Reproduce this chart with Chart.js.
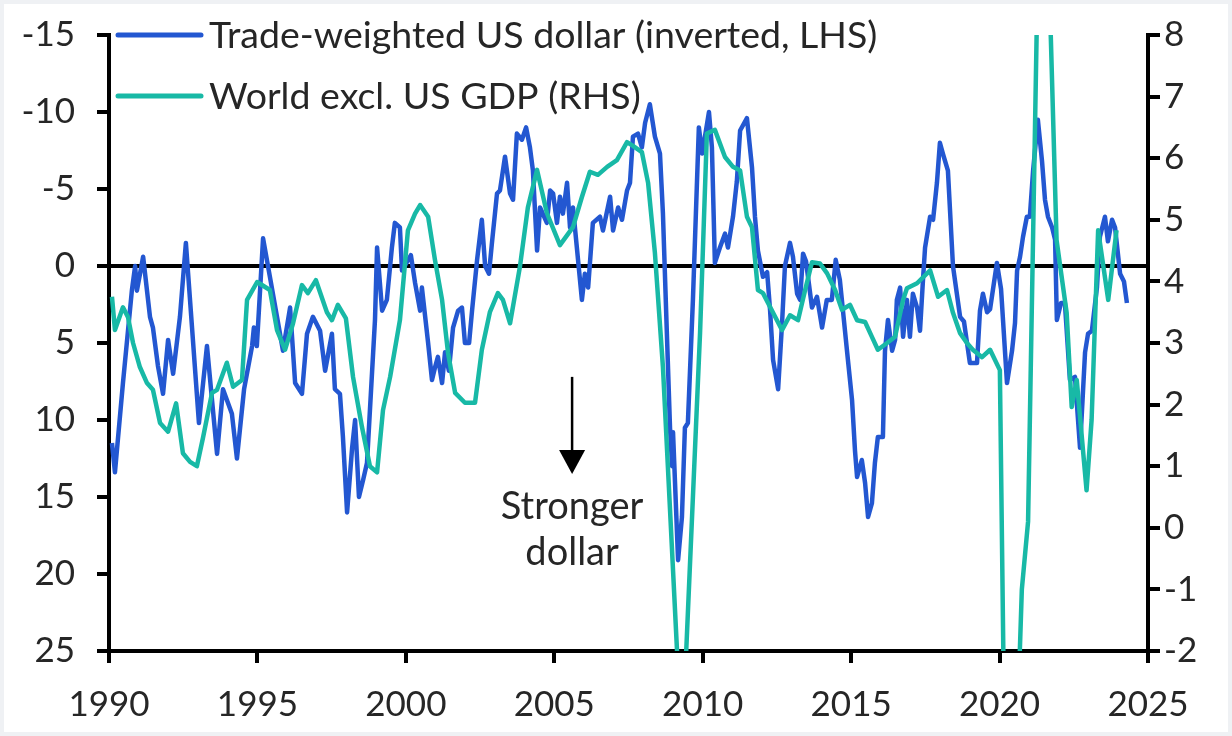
<!DOCTYPE html>
<html>
<head>
<meta charset="utf-8">
<script src="https://cdn.jsdelivr.net/npm/chart.js@4.4.1/dist/chart.umd.min.js"></script>
<style>
  html, body { margin: 0; padding: 0; background: #eff1f4; }
  canvas { display: block; }
</style>
</head>
<body>
<canvas id="grafico" width="1232" height="736"></canvas>
<script>
// Dólar ponderado pelo comércio (% a/a, eixo esquerdo invertido)
const anosDolar = [
  1990.10, 1990.20, 1990.47, 1990.77, 1990.88, 1990.94, 1991.15, 1991.38, 1991.48, 1991.65,
  1991.82, 1991.99, 1992.16, 1992.39, 1992.59, 1993.03, 1993.30, 1993.64, 1993.84, 1994.14,
  1994.31, 1994.55, 1994.82, 1994.88, 1994.98, 1995.19, 1995.66, 1995.86, 1996.10, 1996.27,
  1996.50, 1996.67, 1996.87, 1997.11, 1997.28, 1997.51, 1997.61, 1997.78, 1997.88, 1998.02,
  1998.19, 1998.29, 1998.42, 1998.56, 1998.69, 1998.96, 1999.03, 1999.20, 1999.36, 1999.53,
  1999.63, 1999.80, 1999.87, 2000.17, 2000.31, 2000.48, 2000.54, 2000.75, 2000.88, 2000.98,
  2001.08, 2001.22, 2001.32, 2001.45, 2001.59, 2001.76, 2001.89, 2001.99, 2002.13, 2002.23,
  2002.40, 2002.56, 2002.67, 2002.80, 2002.90, 2003.07, 2003.17, 2003.34, 2003.51, 2003.61,
  2003.74, 2003.91, 2004.05, 2004.18, 2004.28, 2004.42, 2004.52, 2004.75, 2004.86, 2004.96,
  2005.09, 2005.19, 2005.29, 2005.43, 2005.53, 2005.63, 2005.76, 2005.93, 2006.03, 2006.14,
  2006.30, 2006.54, 2006.64, 2006.88, 2006.98, 2007.15, 2007.28, 2007.45, 2007.55, 2007.65,
  2007.82, 2007.95, 2008.06, 2008.22, 2008.39, 2008.56, 2008.66, 2008.80, 2008.90, 2008.97,
  2009.00, 2009.17, 2009.30, 2009.40, 2009.50, 2009.67, 2009.87, 2009.98, 2010.11, 2010.21,
  2010.31, 2010.41, 2010.58, 2010.75, 2010.85, 2011.02, 2011.15, 2011.26, 2011.49, 2011.66,
  2011.76, 2011.86, 2012.03, 2012.17, 2012.27, 2012.37, 2012.54, 2012.67, 2012.77, 2012.94,
  2013.04, 2013.18, 2013.28, 2013.38, 2013.48, 2013.68, 2013.85, 2014.02, 2014.18, 2014.35,
  2014.48, 2014.62, 2014.86, 2015.03, 2015.13, 2015.20, 2015.36, 2015.47, 2015.57, 2015.70,
  2015.80, 2015.90, 2016.07, 2016.14, 2016.24, 2016.38, 2016.48, 2016.54, 2016.65, 2016.75,
  2016.88, 2016.98, 2017.08, 2017.22, 2017.32, 2017.42, 2017.49, 2017.66, 2017.76, 2017.89,
  2017.99, 2018.09, 2018.26, 2018.43, 2018.67, 2018.80, 2019.00, 2019.24, 2019.34, 2019.44,
  2019.58, 2019.68, 2019.91, 2020.05, 2020.25, 2020.42, 2020.52, 2020.59, 2020.69, 2020.79,
  2020.92, 2021.02, 2021.13, 2021.29, 2021.43, 2021.53, 2021.63, 2021.77, 2021.87, 2021.93,
  2022.07, 2022.20, 2022.37, 2022.54, 2022.71, 2022.88, 2022.98, 2023.11, 2023.28, 2023.38,
  2023.55, 2023.65, 2023.79, 2023.89, 2024.06, 2024.19, 2024.29
];
const valoresDolar = [
  11.5, 13.4, 7.6, 1.6, 0.0, 1.6, -0.6, 3.3, 4.0, 6.5,
  8.3, 4.8, 7.0, 3.3, -1.5, 10.2, 5.2, 12.2, 8.0, 9.6,
  12.5, 8.0, 5.2, 4.0, 5.2, -1.8, 3.3, 5.5, 2.7, 7.6,
  8.3, 4.4, 3.3, 4.2, 6.8, 4.4, 8.0, 8.3, 11.1, 16.0,
  11.8, 10.0, 15.0, 13.9, 12.8, 3.5, -1.2, 2.9, 2.2, -1.2,
  -2.8, -2.5, 0.3, -0.7, 1.1, 2.9, 1.4, 5.0, 7.4, 6.6,
  5.9, 7.6, 5.6, 6.8, 4.0, 2.9, 2.7, 5.0, 5.0, 2.9,
  -0.4, -3.0, 0.0, 0.5, -1.5, -4.7, -4.9, -7.1, -4.7, -4.3,
  -8.6, -8.2, -9.0, -7.7, -6.2, -1.0, -3.8, -2.8, -4.9, -4.7,
  -2.8, -4.5, -3.4, -5.4, -2.5, -3.8, -1.2, 2.2, 0.5, 1.4,
  -2.8, -3.2, -2.3, -4.5, -2.3, -3.8, -3.0, -4.9, -5.4, -8.4,
  -8.6, -7.7, -9.3, -10.5, -8.4, -7.3, -3.4, 4.8, 10.6, 13.0,
  10.8, 19.1, 16.3, 10.5, 10.2, 2.2, -9.0, -7.3, -8.8, -10.0,
  -7.7, -0.2, -1.2, -2.1, -1.2, -3.2, -5.5, -8.8, -9.6, -6.4,
  -3.2, -1.0, 0.7, 0.4, 2.9, 6.1, 8.0, 3.8, 0.0, -1.5,
  -0.6, 1.8, 2.2, -0.8, -0.3, 2.7, 2.0, 4.0, 2.2, 2.2,
  -0.4, 0.9, 5.5, 8.7, 12.0, 13.7, 12.6, 14.1, 16.3, 15.4,
  12.8, 11.1, 11.1, 5.5, 3.5, 5.5, 4.8, 2.2, 1.4, 4.6,
  2.2, 4.6, 1.8, 2.7, 4.2, 0.9, -1.2, -3.2, -3.0, -5.4,
  -8.0, -7.3, -6.2, 0.0, 3.3, 3.6, 6.3, 6.3, 2.9, 1.8,
  3.0, 2.8, -0.2, 1.5, 7.6, 5.5, 3.7, 0.3, -0.6, -1.9,
  -3.2, -3.2, -6.2, -9.5, -6.8, -4.3, -3.2, -2.5, -1.7, 3.5,
  2.4, 2.4, 7.4, 7.2, 11.8, 5.6, 4.4, 4.2, 1.4, -1.9,
  -3.2, -1.6, -3.0, -2.5, 0.5, 1.0, 2.4
];

// PIB mundial excl. EUA (% a/a, eixo direito)
const anosPib = [
  1990.10, 1990.20, 1990.47, 1990.64, 1990.81, 1991.04, 1991.28, 1991.48, 1991.72, 1991.99,
  1992.26, 1992.49, 1992.73, 1992.96, 1993.17, 1993.47, 1993.64, 1993.97, 1994.18, 1994.48,
  1994.65, 1994.99, 1995.42, 1995.66, 1995.93, 1996.20, 1996.50, 1996.70, 1996.97, 1997.34,
  1997.51, 1997.71, 1997.98, 1998.22, 1998.52, 1998.79, 1999.03, 1999.23, 1999.47, 1999.80,
  2000.07, 2000.31, 2000.48, 2000.75, 2000.98, 2001.22, 2001.42, 2001.66, 2001.99, 2002.33,
  2002.56, 2002.83, 2003.10, 2003.27, 2003.51, 2003.84, 2004.11, 2004.42, 2004.75, 2005.19,
  2005.63, 2005.93, 2006.20, 2006.47, 2006.78, 2007.11, 2007.45, 2007.65, 2007.95, 2008.16,
  2008.39, 2008.66, 2009.30, 2009.91, 2010.14, 2010.41, 2010.75, 2011.02, 2011.26, 2011.49,
  2011.66, 2011.86, 2012.03, 2012.37, 2012.67, 2012.94, 2013.21, 2013.45, 2013.68, 2013.95,
  2014.19, 2014.46, 2014.69, 2014.96, 2015.20, 2015.47, 2015.70, 2015.90, 2016.21, 2016.48,
  2016.75, 2016.88, 2017.22, 2017.66, 2017.93, 2018.23, 2018.43, 2018.67, 2018.90, 2019.10,
  2019.41, 2019.68, 2020.01, 2020.28, 2020.50, 2020.75, 2020.96, 2021.43, 2021.92, 2022.26,
  2022.43, 2022.60, 2022.93, 2023.10, 2023.32, 2023.66, 2023.94
];
const valoresPib = [
  3.75, 3.21, 3.58, 3.42, 3.00, 2.61, 2.35, 2.24, 1.70, 1.56,
  2.02, 1.21, 1.07, 1.00, 1.47, 2.19, 2.24, 2.68, 2.29, 2.40,
  3.70, 3.99, 3.86, 3.21, 2.89, 3.32, 3.94, 3.81, 4.02, 3.50,
  3.37, 3.62, 3.40, 2.45, 1.64, 1.00, 0.90, 1.91, 2.45, 3.37,
  4.83, 5.10, 5.24, 5.05, 4.35, 3.70, 2.84, 2.19, 2.03, 2.03,
  2.89, 3.50, 3.81, 3.70, 3.32, 4.23, 5.20, 5.81, 5.11, 4.59,
  4.88, 5.37, 5.78, 5.73, 5.86, 5.97, 6.26, 6.20, 6.10, 5.60,
  4.46, 2.61, -3.6, 3.16, 6.40, 6.46, 6.02, 5.86, 5.80, 5.05,
  4.88, 3.86, 3.81, 3.49, 3.21, 3.45, 3.37, 3.86, 4.31, 4.29,
  4.13, 3.86, 3.54, 3.62, 3.37, 3.34, 3.10, 2.89, 3.00, 3.10,
  3.70, 3.89, 3.97, 4.18, 3.75, 3.86, 3.49, 3.16, 3.00, 2.89,
  2.77, 2.89, 2.56, -8.0, -4.7, -1.0, 0.1, 13.0, 4.67, 3.49,
  1.96, 2.40, 0.61, 1.75, 4.83, 3.70, 4.83
];

const ticksAnos = [1990, 1995, 2000, 2005, 2010, 2015, 2020, 2025];
const nomeDolar = 'Trade-weighted US dollar (inverted, LHS)';
const nomePib = 'World excl. US GDP (RHS)';
const textoNota = ['Stronger', 'dollar'];

const AZUL = '#2357d1';
const VERDE = '#18b9a6';
const FONTE = 'Lato, "Noto Sans", sans-serif';

const pontos = (xs, ys) => xs.map((x, i) => ({ x: x, y: ys[i] }));

// Fundo, linha do zero, legenda e seta
const extras = {
    id: 'extras',
    beforeDraw(chart) {
        const c = chart.ctx;
        c.save();
        c.fillStyle = '#ffffff';
        c.fillRect(4, 4, chart.width - 8, chart.height - 8);
        c.restore();
    },
    beforeDatasetsDraw(chart) {
        const { ctx, chartArea, scales } = chart;
        const y0 = scales.y.getPixelForValue(0);
        ctx.save();
        ctx.strokeStyle = '#000';
        ctx.lineWidth = 4;
        ctx.beginPath();
        ctx.moveTo(chartArea.left, y0);
        ctx.lineTo(chartArea.right, y0);
        ctx.stroke();
        ctx.restore();
    },
    afterDraw(chart) {
        const { ctx, chartArea, scales } = chart;
        ctx.save();
        // legenda
        const itens = [[nomeDolar, AZUL, chartArea.top], [nomePib, VERDE, chartArea.top + 61]];
        itens.forEach(([txt, cor, y]) => {
            ctx.strokeStyle = cor;
            ctx.lineWidth = 5;
            ctx.lineCap = 'round';
            ctx.beginPath();
            ctx.moveTo(chartArea.left + 9, y);
            ctx.lineTo(chartArea.left + 92, y);
            ctx.stroke();
            ctx.fillStyle = '#262626';
            ctx.font = '37.5px ' + FONTE;
            ctx.textBaseline = 'middle';
            ctx.textAlign = 'left';
            ctx.fillText(txt, chartArea.left + 100, y + 1);
        });
        // seta "Stronger dollar"
        const ax = scales.x.getPixelForValue(2005.6);
        const yTopo = scales.y.getPixelForValue(7.2);
        const yPonta = scales.y.getPixelForValue(13.5);
        ctx.strokeStyle = '#000';
        ctx.lineWidth = 2.5;
        ctx.lineCap = 'butt';
        ctx.beginPath();
        ctx.moveTo(ax, yTopo);
        ctx.lineTo(ax, yPonta - 18);
        ctx.stroke();
        ctx.fillStyle = '#000';
        ctx.beginPath();
        ctx.moveTo(ax - 13, yPonta - 24);
        ctx.lineTo(ax + 13, yPonta - 24);
        ctx.lineTo(ax, yPonta);
        ctx.closePath();
        ctx.fill();
        ctx.fillStyle = '#262626';
        ctx.font = '38px ' + FONTE;
        ctx.textAlign = 'center';
        ctx.textBaseline = 'alphabetic';
        ctx.fillText(textoNota[0], ax, scales.y.getPixelForValue(16.4));
        ctx.fillText(textoNota[1], ax, scales.y.getPixelForValue(19.4));
        ctx.restore();
    }
};

const eixoBase = {
    grid: { drawOnChartArea: false, drawTicks: true, tickLength: 12, color: '#000', lineWidth: 4 },
    border: { display: true, color: '#000', width: 4 },
    ticks: { color: '#262626', font: { family: FONTE, size: 35 } }
};

// largura fixa dos eixos verticais, sem folga extra em cima/baixo
const fixarLargura = (w) => (s) => { s.width = w; s.paddingTop = 0; s.paddingBottom = 0; };

new Chart(document.getElementById('grafico'), {
    type: 'line',
    data: {
        datasets: [
            {
                label: nomeDolar,
                data: pontos(anosDolar, valoresDolar),
                yAxisID: 'y',
                borderColor: AZUL,
                borderWidth: 4.5,
                pointRadius: 0,
                borderJoinStyle: 'round',
                order: 2
            },
            {
                label: nomePib,
                data: pontos(anosPib, valoresPib),
                yAxisID: 'y2',
                borderColor: VERDE,
                borderWidth: 4.5,
                pointRadius: 0,
                borderJoinStyle: 'round',
                order: 1
            }
        ]
    },
    options: {
        responsive: false,
        animation: false,
        events: [],
        layout: { padding: { top: 35, left: 0, right: 0, bottom: 0 } },
        plugins: { legend: { display: false }, tooltip: { enabled: false } },
        scales: {
            x: {
                type: 'linear',
                min: 1990,
                max: 2025,
                ...eixoBase,
                afterBuildTicks: (s) => { s.ticks = ticksAnos.map(v => ({ value: v })); },
                afterFit: (s) => { s.height = 85; s.paddingLeft = 0; s.paddingRight = 0; },
                ticks: { ...eixoBase.ticks, padding: 21, maxRotation: 0, callback: (v) => String(v) }
            },
            y: {
                position: 'left',
                reverse: true,
                min: -15,
                max: 25,
                ...eixoBase,
                afterFit: fixarLargura(109),
                ticks: { ...eixoBase.ticks, stepSize: 5, padding: 22 }
            },
            y2: {
                position: 'right',
                min: -2,
                max: 8,
                ...eixoBase,
                afterFit: fixarLargura(84),
                ticks: { ...eixoBase.ticks, stepSize: 1, padding: 4 }
            }
        }
    },
    plugins: [extras]
});
</script>
</body>
</html>
